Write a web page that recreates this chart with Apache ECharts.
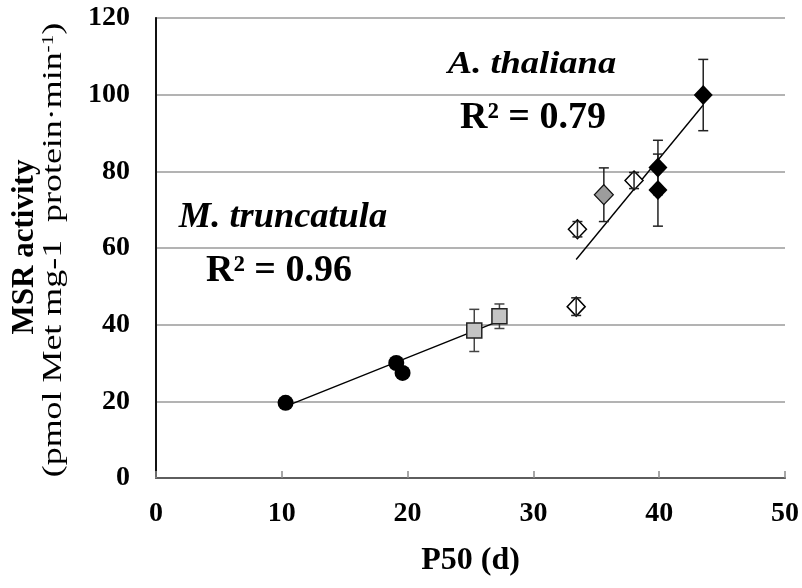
<!DOCTYPE html>
<html>
<head>
<meta charset="utf-8">
<script src="https://cdn.jsdelivr.net/npm/echarts@6/dist/echarts.min.js"></script>
<style>
html,body{margin:0;padding:0;background:#fff;}
#chart{width:802px;height:588px;}
</style>
</head>
<body>
<div id="chart"></div>
<script>
// ---- data ----
var xTicks = [0, 10, 20, 30, 40, 50];
var yTicks = [0, 20, 40, 60, 80, 100, 120];

// M. truncatula
var mtCircleX = [10.3, 19.1, 19.6];
var mtCircleY = [19.6, 30.0, 27.4];
var mtSquareX = [25.3, 27.3];
var mtSquareY = [38.5, 42.2];
var mtSquareErr = [5.5, 3.2];
var mtTrendX = [10.3, 27.3];
var mtTrendY = [18.7, 41.0];

// A. thaliana
var atOpenX = [33.5, 33.4, 38.0];
var atOpenY = [64.9, 44.7, 77.6];
var atOpenErr = [2.0, 2.3, 2.1];
var atGrayX = [35.6];
var atGrayY = [73.9];
var atGrayErr = [7.0];
var atBlackX = [39.9, 39.9, 43.5];
var atBlackY = [81.0, 75.1, 99.9];
var atBlackErr = [7.1, 9.4, 9.3];
var atTrendX = [33.4, 43.5];
var atTrendY = [57.0, 97.3];

var labels = {
  at: 'A. thaliana', atR2: 'R² = 0.79',
  mt: 'M. truncatula', mtR2: 'R² = 0.96',
  xTitle: 'P50 (d)', yTitle: 'MSR activity'
};

// ---- helpers ----
function pts(xs, ys) { return xs.map(function (x, i) { return [x, ys[i]]; }); }
function errPts(xs, ys, es) { return xs.map(function (x, i) { return [x, ys[i] - es[i], ys[i] + es[i]]; }); }

var SERIF = '"Liberation Serif", "Times New Roman", serif';

function errorBarSeries(data, color, z) {
  return {
    type: 'custom',
    z: z,
    data: data,
    encode: { x: 0, y: [1, 2] },
    renderItem: function (params, api) {
      var x = api.value(0);
      var lo = api.coord([x, api.value(1)]);
      var hi = api.coord([x, api.value(2)]);
      var hw = 5;
      var st = { stroke: color, lineWidth: 1.5 };
      return {
        type: 'group',
        children: [
          { type: 'line', shape: { x1: lo[0], y1: lo[1], x2: hi[0], y2: hi[1] }, style: st },
          { type: 'line', shape: { x1: lo[0] - hw, y1: lo[1], x2: lo[0] + hw, y2: lo[1] }, style: st },
          { type: 'line', shape: { x1: hi[0] - hw, y1: hi[1], x2: hi[0] + hw, y2: hi[1] }, style: st }
        ]
      };
    }
  };
}

var chart = echarts.init(document.getElementById('chart'), null, { renderer: 'canvas' });

var option = {
  backgroundColor: '#fff',
  animation: false,
  grid: { left: 156, right: 15, top: 18, bottom: 110, containLabel: false },
  xAxis: [{
    type: 'value', min: xTicks[0], max: xTicks[xTicks.length - 1], interval: 10,
    axisLine: { show: true, onZero: false, lineStyle: { color: '#8a8a8a', width: 2 } },
    axisTick: { show: true, inside: true, length: 7, lineStyle: { color: '#8a8a8a', width: 1.5 } },
    splitLine: { show: false },
    axisLabel: { color: '#000', fontFamily: SERIF, fontWeight: 'bold', fontSize: 28, margin: 22 },
    name: labels.xTitle, nameLocation: 'middle', nameGap: 67,
    nameTextStyle: { color: '#000', fontFamily: SERIF, fontWeight: 'bold', fontSize: 32 }
  }, {
    type: 'value', position: 'top', min: 0, max: 50,
    axisLine: { show: true, lineStyle: { color: '#5e5e5e', width: 1.8 } },
    axisTick: { show: false }, axisLabel: { show: false }, splitLine: { show: false }
  }],
  yAxis: [{
    type: 'value', min: yTicks[0], max: yTicks[yTicks.length - 1], interval: 20,
    axisLine: { show: true, onZero: false, lineStyle: { color: '#8a8a8a', width: 2 } },
    axisTick: { show: false },
    splitLine: { show: true, lineStyle: { color: '#9a9a9a', width: 1.5 } },
    axisLabel: { color: '#000', fontFamily: SERIF, fontWeight: 'bold', fontSize: 28, margin: 26 }
  }, {
    type: 'value', position: 'right', min: 0, max: 120,
    axisLine: { show: true, lineStyle: { color: '#111', width: 2 } },
    axisTick: { show: false }, axisLabel: { show: false }, splitLine: { show: false }
  }],
  series: [
    {
      type: 'line', z: 1, data: pts(mtTrendX, mtTrendY), showSymbol: false, symbol: 'none',
      lineStyle: { color: '#000', width: 1.4 }
    },
    {
      type: 'line', z: 1, data: pts(atTrendX, atTrendY), showSymbol: false, symbol: 'none',
      lineStyle: { color: '#000', width: 1.4 }
    },
    errorBarSeries(errPts(mtSquareX, mtSquareY, mtSquareErr), '#444', 2),
    errorBarSeries(errPts(atGrayX, atGrayY, atGrayErr), '#222', 2),
    errorBarSeries(errPts(atBlackX, atBlackY, atBlackErr), '#222', 2),
    {
      type: 'scatter', z: 3, data: pts(mtCircleX, mtCircleY), symbol: 'circle', symbolSize: 16,
      itemStyle: { color: '#000', opacity: 1 }
    },
    {
      type: 'scatter', z: 3, data: pts(mtSquareX, mtSquareY), symbol: 'rect', symbolSize: 15,
      itemStyle: { color: '#c4c4c4', borderColor: '#222', borderWidth: 1.5, opacity: 1 }
    },
    {
      type: 'scatter', z: 3, data: pts(atGrayX, atGrayY), symbol: 'diamond', symbolSize: [19, 20],
      itemStyle: { color: '#9c9c9c', borderColor: '#111', borderWidth: 1.2, opacity: 1 }
    },
    {
      type: 'scatter', z: 3, data: pts(atBlackX, atBlackY), symbol: 'diamond', symbolSize: [19, 20],
      itemStyle: { color: '#000', opacity: 1 }
    },
    {
      type: 'scatter', z: 3, data: pts(atOpenX, atOpenY), symbol: 'diamond', symbolSize: [18, 19],
      itemStyle: { color: '#fff', borderColor: '#000', borderWidth: 1.5, opacity: 1 }
    },
    errorBarSeries(errPts(atOpenX, atOpenY, atOpenErr), '#222', 4)
  ],
  graphic: [
    {
      type: 'text', x: 532, y: 65, scaleX: 1.14, z: 10,
      style: { text: labels.at, font: 'italic bold 32px ' + SERIF, fill: '#000',
               align: 'center', verticalAlign: 'middle', textAlign: 'center', textVerticalAlign: 'middle' }
    },
    {
      type: 'text', x: 533, y: 118, z: 10,
      style: { text: labels.atR2, font: 'bold 38px ' + SERIF, fill: '#000',
               align: 'center', verticalAlign: 'middle', textAlign: 'center', textVerticalAlign: 'middle' }
    },
    {
      type: 'text', x: 283, y: 218, scaleX: 1.04, z: 10,
      style: { text: labels.mt, font: 'italic bold 35px ' + SERIF, fill: '#000',
               align: 'center', verticalAlign: 'middle', textAlign: 'center', textVerticalAlign: 'middle' }
    },
    {
      type: 'text', x: 279, y: 271, z: 10,
      style: { text: labels.mtR2, font: 'bold 38px ' + SERIF, fill: '#000',
               align: 'center', verticalAlign: 'middle', textAlign: 'center', textVerticalAlign: 'middle' }
    },
    {
      type: 'text', x: 25, y: 247, rotation: Math.PI / 2, z: 10,
      style: { text: labels.yTitle, font: 'bold 31px ' + SERIF, fill: '#000',
               align: 'center', verticalAlign: 'middle', textAlign: 'center', textVerticalAlign: 'middle' }
    },
    {
      type: 'text', x: 54, y: 250, rotation: Math.PI / 2, scaleX: 1.33, z: 10,
      style: {
        text: '{a|(pmol Met mg-1  protein·min}{s|-1}{a|)}',
        rich: {
          a: { font: '27px ' + SERIF, fill: '#000', color: '#000' },
          s: { font: '16px ' + SERIF, fill: '#000', color: '#000', verticalAlign: 'top' }
        },
        align: 'center', verticalAlign: 'middle', textAlign: 'center', textVerticalAlign: 'middle'
      }
    }
  ]
};

chart.setOption(option);
</script>
</body>
</html>
